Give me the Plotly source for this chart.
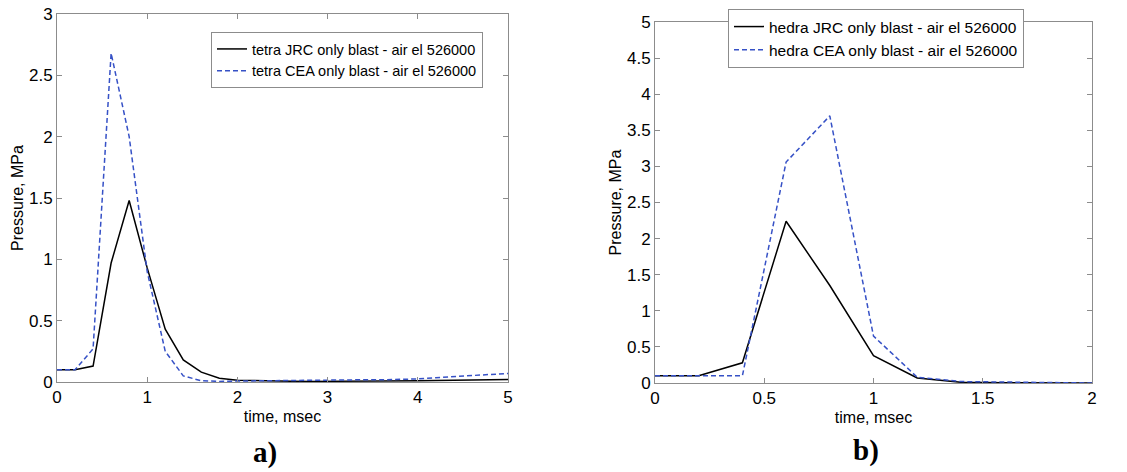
import plotly.graph_objects as go

# ---- data ----
t_a = [round(0.2 * i, 1) for i in range(26)]
jrc_a = [0.1, 0.1, 0.13, 0.97, 1.48, 0.93, 0.43, 0.18, 0.08, 0.03, 0.015, 0.01, 0.008,
         0.006, 0.005, 0.005, 0.005, 0.005, 0.006, 0.008, 0.01, 0.012, 0.014, 0.016, 0.018, 0.02]
cea_a = [0.1, 0.1, 0.27, 2.68, 2.0, 0.9, 0.25, 0.05, 0.01, 0.005, 0.008, 0.01, 0.013,
         0.015, 0.016, 0.017, 0.018, 0.018, 0.018, 0.02, 0.025, 0.035, 0.045, 0.055, 0.063, 0.07]

t_b = [round(0.2 * i, 1) for i in range(11)]
jrc_b = [0.1, 0.1, 0.28, 2.24, 1.35, 0.38, 0.07, 0.01, 0.005, 0.002, 0.0]
cea_b = [0.1, 0.1, 0.1, 3.06, 3.7, 0.65, 0.08, 0.02, 0.01, 0.005, 0.0]

names_a = ["tetra JRC only blast - air el 526000", "tetra CEA only blast - air el 526000"]
names_b = ["hedra JRC only blast - air el 526000", "hedra CEA only blast - air el 526000"]
xticks_a = [0, 1, 2, 3, 4, 5]
yticks_a = [0, 0.5, 1, 1.5, 2, 2.5, 3]
xticks_b = [0, 0.5, 1, 1.5, 2]
yticks_b = [0, 0.5, 1, 1.5, 2, 2.5, 3, 3.5, 4, 4.5, 5]

W, H = 1127, 472
BLUE = "#3651c6"
FONT = "Liberation Sans, Arial, sans-serif"

fig = go.Figure()
fig.add_trace(go.Scatter(x=t_a, y=jrc_a, mode="lines", name=names_a[0],
                         line=dict(color="black", width=1.5), xaxis="x", yaxis="y", legend="legend"))
fig.add_trace(go.Scatter(x=t_a, y=cea_a, mode="lines", name=names_a[1],
                         line=dict(color=BLUE, width=1.5, dash="5px,3px"), xaxis="x", yaxis="y", legend="legend"))
fig.add_trace(go.Scatter(x=t_b, y=jrc_b, mode="lines", name=names_b[0],
                         line=dict(color="black", width=1.5), xaxis="x2", yaxis="y2", legend="legend2"))
fig.add_trace(go.Scatter(x=t_b, y=cea_b, mode="lines", name=names_b[1],
                         line=dict(color=BLUE, width=1.5, dash="5px,3px"), xaxis="x2", yaxis="y2", legend="legend2"))

def ax(domain, rng, ticks, title, anchor, standoff):
    return dict(domain=domain, range=rng, tickvals=ticks, ticktext=[f"{v:g}" for v in ticks],
                showline=True, linecolor="#8c8c8c", linewidth=1, mirror="ticks",
                ticks="inside", ticklen=5, tickcolor="#8c8c8c", showgrid=False, zeroline=False,
                tickfont=dict(family=FONT, size=17, color="black"),
                title=dict(text=title, font=dict(family=FONT, size=16, color="black"), standoff=standoff),
                anchor=anchor, fixedrange=True, automargin=False)

xa = ax([57 / W, 508 / W], [0, 5], xticks_a, "time, msec", "y", 4)
ya = ax([1 - 382 / H, 1 - 14 / H], [0, 3], yticks_a, "Pressure, MPa", "x", 1)
xb = ax([655 / W, 1092 / W], [0, 2], xticks_b, "time, msec", "y2", 4)
yb = ax([1 - 383 / H, 1 - 22 / H], [0, 5], yticks_b, "Pressure, MPa", "x2", 1)
xa["ticklabelstandoff"] = 0
xb["ticklabelstandoff"] = 0

leg_common = dict(xanchor="left", yanchor="top", bgcolor="white", bordercolor="#8c8c8c",
                  borderwidth=1, itemwidth=30, tracegroupgap=0, xref="paper", yref="paper")

fig.update_layout(
    width=W, height=H, margin=dict(l=0, r=0, t=0, b=0, autoexpand=False),
    paper_bgcolor="white", plot_bgcolor="white", showlegend=True,
    xaxis=xa, yaxis=ya, xaxis2=xb, yaxis2=yb,
    legend=dict(x=211 / W, y=1 - 32 / H, font=dict(family=FONT, size=14.5, color="black"), **leg_common),
    legend2=dict(x=728 / W, y=1 - 9 / H, font=dict(family=FONT, size=15.5, color="black"), **leg_common),
    annotations=[
        dict(text="<b>a)</b>", x=265 / W, y=1 - 452 / H, xref="paper", yref="paper",
             xanchor="center", yanchor="middle", showarrow=False,
             font=dict(family="Liberation Serif, Times New Roman, serif", size=29, color="black")),
        dict(text="<b>b)</b>", x=866 / W, y=1 - 450 / H, xref="paper", yref="paper",
             xanchor="center", yanchor="middle", showarrow=False,
             font=dict(family="Liberation Serif, Times New Roman, serif", size=29, color="black")),
    ],
)

fig.write_html("out.html", config={"displayModeBar": False},
               post_script="document.body.style.margin='0';document.body.style.padding='0';"
                           "document.body.style.overflow='hidden';")
